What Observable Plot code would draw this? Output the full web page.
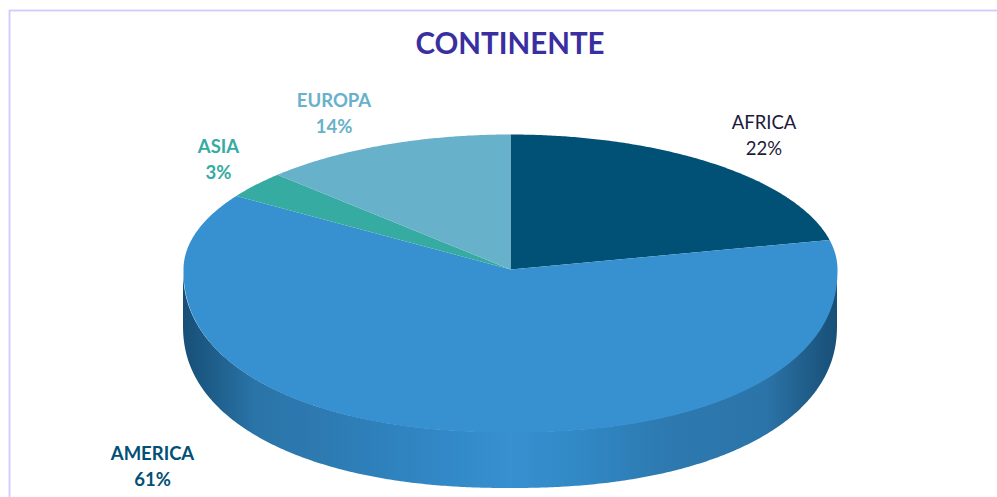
<!DOCTYPE html>
<html>
<head>
<meta charset="utf-8">
<script src="https://cdn.jsdelivr.net/npm/d3@7"></script>
<script src="https://cdn.jsdelivr.net/npm/@observablehq/plot@0.6"></script>
<style>html,body{margin:0;padding:0;background:#fff}svg{display:block}</style>
</head>
<body>
<div id="chart"></div>
<script>
// Data
const titleText = "CONTINENTE";
const names = ["AFRICA", "AMERICA", "ASIA", "EUROPA"];
const percents = [22, 61, 3, 14];

// Style
const sliceColors = ["#015075", "#3791d0", "#36aba1", "#68b1ca"];
const labelColors = ["#1d1a3a", "#025076", "#36aba1", "#68b1ca"];
const labelWeights = ["normal", "bold", "bold", "bold"];
const labelCenters = [[763.5, 133.5], [152, 464.5], [218, 157.5], [333.5, 111]];
const sideStops = [
  [0, "#174f77"], [0.05, "#1f5f8c"], [0.11, "#2a74a8"], [0.2, "#2d79b0"], [0.33, "#2f83bf"],
  [0.5, "#3790d0"], [0.62, "#3087c3"], [0.74, "#2d79b0"], [0.89, "#2b74a9"], [0.95, "#215f8c"], [1, "#174f77"]
];

// Layout of the tilted disc (perspective: near half is taller than the far half)
const cx = 510, cy = 269, rx = 327, ryFar = 135, ryNear = 163, depth = 56, nearExp = 2.2;
const rad = Math.PI / 180;
const warp = (deg) => deg - 5 * Math.sin(2 * deg * rad);
function rim(deg) {
  const t = warp(deg) * rad, s = Math.sin(t), c = Math.cos(t);
  const y = c >= 0 ? cy - ryFar * c
    : cy + ryNear * Math.pow(1 - Math.pow(Math.abs(s), nearExp), 1 / nearExp);
  return {x: cx + rx * s, y};
}

// Slices from the values
const total = d3.sum(percents);
const slices = [];
let start = 0;
names.forEach((name, i) => {
  const end = start + percents[i] / total * 360;
  slices.push({name, x: cx, y: cy});
  for (const a of d3.range(start, end, 0.5)) slices.push({name, ...rim(a)});
  slices.push({name, ...rim(end)});
  start = end;
});

// Side wall: near half of the rim, extruded down
const side = d3.range(0, 181, 0.5).map((u) => {
  const x = cx + rx * Math.cos((180 - u) * rad), s = Math.abs(x - cx) / rx;
  const y = cy + ryNear * Math.pow(Math.max(0, 1 - Math.pow(s, nearExp)), 1 / nearExp);
  return {x, y1: y, y2: y + depth};
});

const defs = () => {
  const d = d3.create("svg:defs");
  const g = d.append("linearGradient").attr("id", "sideFill").attr("x1", 0).attr("x2", 1).attr("y1", 0).attr("y2", 0);
  for (const [o, c] of sideStops) g.append("stop").attr("offset", o).attr("stop-color", c);
  return d.node();
};

const labels = names.map((name, i) => ({name, text: `${name}\n${percents[i]}%`, x: labelCenters[i][0], y: labelCenters[i][1], color: labelColors[i], weight: labelWeights[i]}));

const plot = Plot.plot({
  width: 997, height: 497,
  margin: 0,
  style: {fontFamily: "Lato, sans-serif", background: "#fff"},
  x: {domain: [0, 997], range: [0, 997], axis: null},
  y: {domain: [0, 497], range: [0, 497], axis: null},
  color: {domain: names, range: sliceColors},
  marks: [
    defs,
    Plot.frame({stroke: "#cfcbfb", strokeWidth: 1.8, insetLeft: 9, insetTop: 10, insetRight: -10, insetBottom: -10}),
    Plot.areaY(side, {x: "x", y1: "y1", y2: "y2", fill: "url(#sideFill)"}),
    Plot.line(slices, {x: "x", y: "y", z: "name", fill: "name", stroke: "none"}),
    Plot.text([titleText], {text: (d) => d, x: () => 509.5, y: () => 44, fontSize: 29.5, fontWeight: "bold", fill: "#3a2fa0"}),
    ...labels.map((l) => Plot.text([l], {text: "text", x: "x", y: "y", fill: l.color, fontSize: 18.5, fontWeight: l.weight, lineHeight: 1.4}))
  ]
});
document.getElementById("chart").append(plot);
</script>
</body>
</html>
